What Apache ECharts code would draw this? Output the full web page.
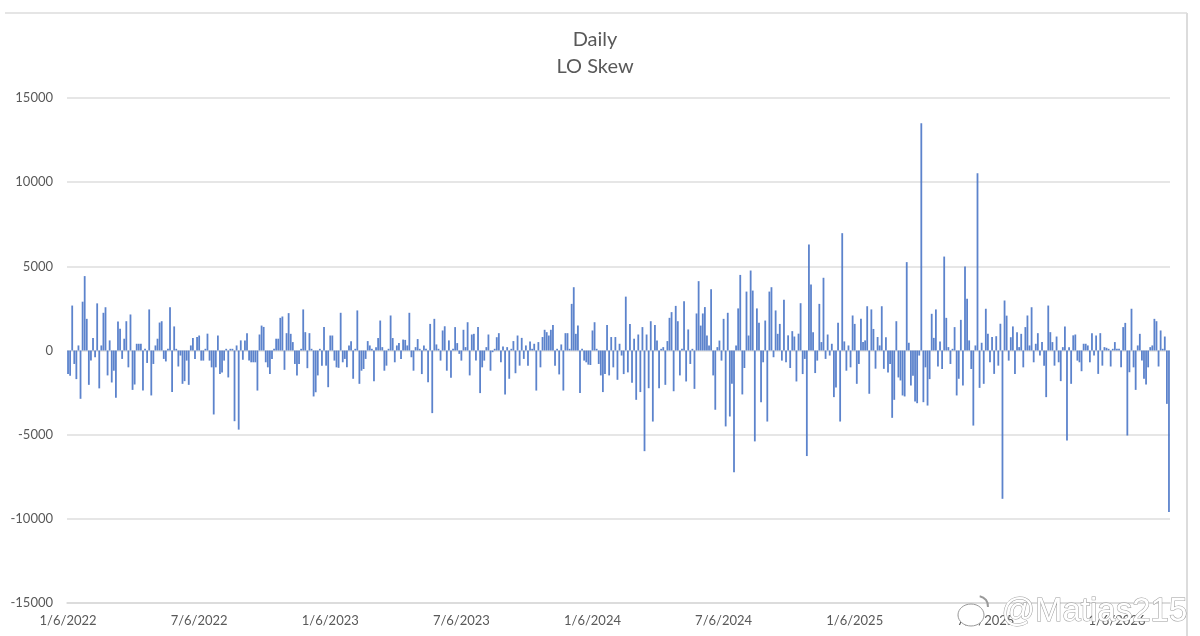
<!DOCTYPE html>
<html>
<head>
    <meta charset="utf-8">
    <script src="https://cdn.jsdelivr.net/npm/echarts@6/dist/echarts.min.js"></script>
    <style>
        html, body { margin: 0; padding: 0; background: #fff; }
    </style>
</head>
<body>
    <div id="main" style="width: 1200px;height:636px;"></div>
    <script type="text/javascript">

    // values, one list per half year
    var h1_2022 = [-1400, -1500, 2670, -800, -1700, 300, -2870, 2900, 4420, 1880, -2040, -600, 750, -400, 2800, -2250, 300, 2240, 2570, -1480, 600, -1900, -1200, -2800, 1720, 1290, -500, 700, 1740, -1000, 2140, -2340, -2020, 400, 400, 400, -2380, 100, -740, 2440, -2670, -800, 300, 700, 1660, 1740, -500, -650, 100, 2570, -2470, 1430, 100, -950, -300, -1980, -1820, -600, -2040, 300, 750, -500, 800];
    var h2_2022 = [890, -600, -600, 100, 1000, -600, -1000, -3800, -1000, 890, -1400, -1300, -600, 100, -1600, 100, 100, -4200, 300, -4700, 600, -550, 600, 1030, -600, -700, -700, -700, -2380, 950, 1480, 1400, -700, -1000, -1400, -500, 100, 700, 700, 1940, 2020, -1150, 1030, 2220, 990, 500, -800, -1480, -800, 100, 2440, 1090, -1050, 1030, 100, -2730, -2480, -1480, 100, -900, 1390, -900, -2180];
    var h1_2023 = [890, 890, -600, -1000, -1030, 2240, -700, -500, -1000, 300, 550, -1680, 100, 2380, -1980, -1200, -1100, -500, 560, 300, 100, -1820, 200, 740, 1780, 200, -1200, -900, 100, 2080, 740, -700, 300, 440, -500, 650, 630, 300, 2240, -400, -1200, 200, 680, 100, -1400, 300, 100, -1880, 1580, -3720, 1880, 360, 100, -600, 1190, 1440, -1200, 600, -1620, 100, 1390, 440, -200];
    var h2_2023 = [-600, 1230, 200, 1680, -1480, 950, 990, -600, 1390, -2530, -1000, -600, 200, 950, -1200, -100, 100, 790, 1030, -700, 240, -2610, 200, -1680, 100, 560, -1350, 890, -900, 750, -500, 300, -900, 540, 100, 400, -2380, 500, -1000, 800, 1230, 1090, 890, 1230, 1520, -900, 100, -1420, 360, -2380, 1030, 1030, 100, 2770, 3760, 990, 1480, -2530, 100, -600, -700, -840, -860];
    var h1_2024 = [1190, 1680, 100, -800, -1480, -2470, -1400, 1520, -1480, 800, -1000, 800, -1740, 400, -300, -1400, 3200, -1300, 1580, -1920, 700, -2930, 950, -2470, 1390, -5980, 950, -2240, 1740, -4220, 1520, 600, -2240, 100, 200, -2040, 560, 1940, 2280, -2420, 2650, 1740, -1480, 100, 2930, -1840, 1250, -800, 100, -2280, 2200, 4120, 1480, 2200, 2580, 890, 300, 3640, -1480, -3520, 200, 590, -600];
    var h2_2024 = [1880, -4510, 2240, -3920, -1980, -7230, 300, 2500, 4490, -2610, -1040, 3500, 890, 4750, 3560, -5400, 2500, 1650, -3070, -700, 1780, -4220, 3500, 3760, -400, 2380, 990, 1580, -600, 3010, -700, 900, -1040, 1150, 830, -1840, 1000, 2810, -1400, -500, -6270, 6300, 3920, 1090, -1340, -600, 2770, 500, 4320, -500, 950, -300, 400, -2770, -2200, 1650, -4220, 6970, 540, -1200, 300, -1000, 2080];
    var h1_2025 = [1580, -1980, -800, 1880, 500, 600, 2630, -2570, 2440, 1280, -1080, 800, 300, 2630, -1090, 790, -1300, -800, -4000, -2930, 1740, -1600, -1780, -2670, -2730, 5250, 460, -2080, -1500, -3030, -3130, -300, 13500, -3070, -1000, -3270, -1700, 2180, 750, 2440, -950, 540, -1100, 5580, 1940, 200, -800, 100, 1390, -2670, -1680, 1820, -2080, 4990, 3070, 600, -1100, -4460, 300, 10530, -2220, 460, -1980];
    var h2_2025 = [2480, 1000, -700, 800, -1390, 850, -900, 1590, -8810, 2970, 2070, -600, 790, 1430, -1390, 1090, 200, 990, -1000, 1390, 2080, 300, 2570, -700, 400, 1030, -300, 500, -900, -2770, 2670, 1090, 500, -900, 830, -700, -1820, 200, 1430, -5350, 200, -1980, 900, 950, -600, -700, -1230, 400, 400, 300, -700, 1030, -300, 890, -1390, 1030, -900, 200, 160, 100, -950, 100, 500];
    var h1_2026 = [100, 100, -1000, 1390, 1640, -5050, -1290, 2480, -1000, -2340, 300, 990, -600, -1680, -2020, -1000, 200, 300, 1880, 1740, -950, 1190, 100, 830, -3170, -9600];

    var tickLabels = ['1/6/2022', '7/6/2022', '1/6/2023', '7/6/2023', '1/6/2024', '7/6/2024', '1/6/2025', '7/6/2025', '1/6/2026'];
    var perHalfYear = 63;

    var skew = [].concat(h1_2022, h2_2022, h1_2023, h2_2023, h1_2024, h2_2024, h1_2025, h2_2025, h1_2026);
    var categories = skew.map(function (v, i) {
        return i % perHalfYear === 0 ? tickLabels[i / perHalfYear] : '';
    });

    var textColor = '#595959';
    var fontName = 'Lato, "Noto Sans", sans-serif';

    var myChart = echarts.init(document.getElementById('main'));

    myChart.setOption({
        backgroundColor: '#fff',
        animation: false,
        title: {
            text: 'Daily\nLO Skew',
            left: 590,
            top: 21,
            textAlign: 'center',
            textStyle: {
                color: textColor,
                fontFamily: fontName,
                fontWeight: 'normal',
                fontSize: 20,
                lineHeight: 27
            }
        },
        grid: {
            left: 67,
            right: 30,
            top: 98,
            bottom: 33
        },
        xAxis: {
            type: 'category',
            data: categories,
            axisLine: {onZero: false, lineStyle: {color: '#d9d9d9', width: 1.5}},
            axisTick: {show: false},
            axisLabel: {
                interval: function (index) {
                    return index % perHalfYear === 0;
                },
                color: textColor,
                fontFamily: fontName,
                fontSize: 13,
                margin: 11
            }
        },
        yAxis: {
            type: 'value',
            min: -15000,
            max: 15000,
            interval: 5000,
            axisLine: {show: false},
            axisTick: {show: false},
            axisLabel: {
                formatter: function (v) {
                    return String(v);
                },
                color: textColor,
                fontFamily: fontName,
                fontSize: 13,
                margin: 14
            },
            splitLine: {lineStyle: {color: '#dedede', width: 1.5}}
        },
        series: [
            {
                type: 'bar',
                data: skew,
                barWidth: 1.8,
                itemStyle: {color: '#4a76c6', opacity: 0.9}
            }
        ],
        graphic: [
            {type: 'line', shape: {x1: 5, y1: 13, x2: 1187, y2: 13}, style: {stroke: '#dcdcdc', lineWidth: 1.5}},
            {type: 'line', shape: {x1: 1187, y1: 13, x2: 1187, y2: 636}, style: {stroke: '#dcdcdc', lineWidth: 2}},
            {type: 'ellipse', z: 100, shape: {cx: 971, cy: 615, rx: 13, ry: 11}, style: {fill: '#fff', stroke: '#9a9a9a', lineWidth: 1}},
            {type: 'arc', z: 100, shape: {cx: 978, cy: 606, r: 10, startAngle: -1.4, endAngle: 0.1}, style: {fill: null, stroke: '#9a9a9a', lineWidth: 2}},
            {
                type: 'text',
                z: 100,
                left: 1001,
                top: 595,
                style: {
                    text: '@Matias215',
                    fill: '#fff',
                    stroke: '#9a9a9a',
                    lineWidth: 1,
                    font: '33px "Liberation Sans", sans-serif'
                }
            }
        ]
    });
    </script>
</body>
</html>
